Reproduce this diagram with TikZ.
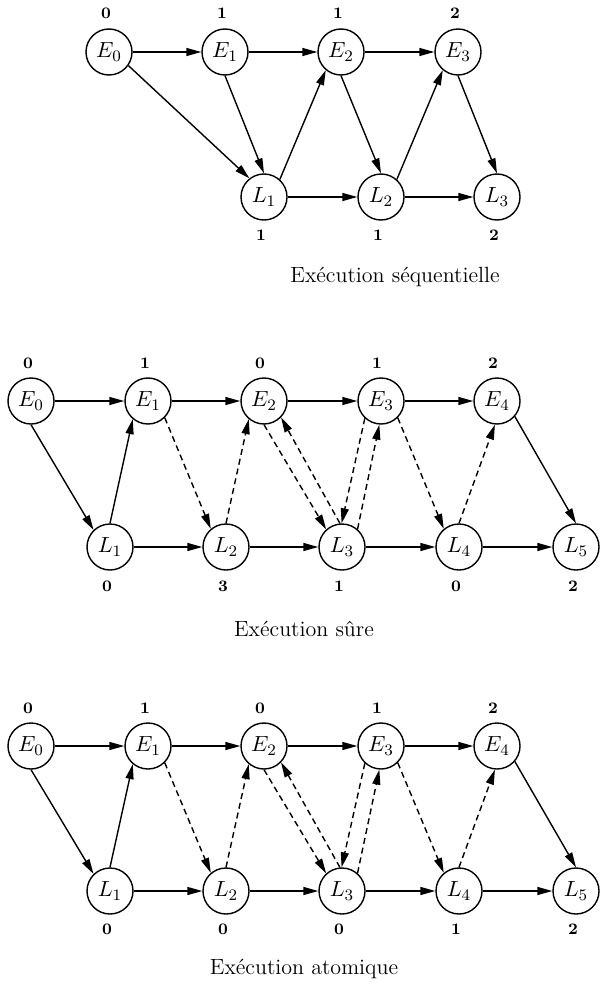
\documentclass[tikz,border=0pt]{standalone}
\usepackage{amsmath}
\usepackage{tikz}
\usetikzlibrary{arrows.meta}

\begin{document}
\begin{tikzpicture}[x=0.5pt, y=-0.5pt, line width=0.7pt,
		etat/.style={circle, draw, minimum size=23pt, inner sep=0pt, font=\fontsize{11}{13}\selectfont},
		num/.style={font=\footnotesize\bfseries, inner sep=0pt},
		titre/.style={font=\fontsize{11}{13}\selectfont, inner sep=0pt},
		arr/.style={-{Triangle[length=7.5pt,width=4pt]}},
		dsh/.style={dash pattern=on 3pt off 2pt}]
				\useasboundingbox (0,0) rectangle (605,990);
				
				% execution sequentielle
				\node[etat] (E0) at (109,52) {$E_0$};
				\node[etat] (E1) at (225,52) {$E_1$};
				\node[etat] (E2) at (341,52) {$E_2$};
				\node[etat] (E3) at (458,52) {$E_3$};
				\node[etat] (L1) at (264,197) {$L_1$};
				\node[etat] (L2) at (381,197) {$L_2$};
				\node[etat] (L3) at (497,197) {$L_3$};
				
				\node[num] (nE0) at (106,13) {0};
				\node[num] (nE1) at (222,13) {1};
				\node[num] (nE2) at (338,13) {1};
				\node[num] (nE3) at (455,13) {2};
				\node[num] (nL1) at (261,235) {1};
				\node[num] (nL2) at (378,235) {1};
				\node[num] (nL3) at (494,235) {2};
				
				\draw[arr] (E0) -- (E1);
				\draw[arr] (E1) -- (E2);
				\draw[arr] (E2) -- (E3);
				\draw[arr] (L1) -- (L2);
				\draw[arr] (L2) -- (L3);
				
				\draw[arr] (E0.-35) -- (L1.128);
				\draw[arr] (E1.south) -- (L1.north);
				\draw[arr] (L1.48) -- (E2.-130);
				\draw[arr] (E2.south) -- (L2.north);
				\draw[arr] (L2.48) -- (E3.-130);
				\draw[arr] (E3.south) -- (L3.north);
				
				\node[titre] (T0) at (395,277) {Ex\'ecution s\'equentielle};
				
				% execution sure
				\begin{scope}
					\node[etat] (E0) at (31,401) {$E_0$};
					\node[etat] (E1) at (148,401) {$E_1$};
					\node[etat] (E2) at (264,401) {$E_2$};
					\node[etat] (E3) at (381,401) {$E_3$};
					\node[etat] (E4) at (497,401) {$E_4$};
					\node[etat] (L1) at (110,547) {$L_1$};
					\node[etat] (L2) at (226,547) {$L_2$};
					\node[etat] (L3) at (342,547) {$L_3$};
					\node[etat] (L4) at (459,547) {$L_4$};
					\node[etat] (L5) at (576,547) {$L_5$};
					
					\node[num] (nE0) at (28,363) {0};
					\node[num] (nE1) at (145,363) {1};
					\node[num] (nE2) at (260,363) {0};
					\node[num] (nE3) at (377,363) {1};
					\node[num] (nE4) at (493,363) {2};
					\node[num] (nL1) at (107,586) {0};
					\node[num] (nL2) at (223,586) {3};
					\node[num] (nL3) at (339,586) {1};
					\node[num] (nL4) at (456,586) {0};
					\node[num] (nL5) at (573,586) {2};
					
					\draw[arr] (E0) -- (E1);
					\draw[arr] (E1) -- (E2);
					\draw[arr] (E2) -- (E3);
					\draw[arr] (E3) -- (E4);
					\draw[arr] (L1) -- (L2);
					\draw[arr] (L2) -- (L3);
					\draw[arr] (L3) -- (L4);
					\draw[arr] (L4) -- (L5);
					
					\draw[arr] (E0.south) -- (L1.134);
					\draw[arr] (L1.north) -- (E1.-130);
					\draw[arr, dsh] (E1.-45) -- (L2.130);
					\draw[arr, dsh] (L2.north) -- (E2.-130);
					\draw[arr, dsh] (E2.south) -- (L3.132);
					\draw[arr, dsh] (L3.95) -- (E2.-44);
					\draw[arr, dsh] (E3.-133) -- (L3.91);
					\draw[arr, dsh] (L3.49) -- (E3.-94);
					\draw[arr, dsh] (E3.-45) -- (L4.130);
					\draw[arr, dsh] (L4.north) -- (E4.-95);
					\draw[arr] (E4.-41) -- (L5.north);
					
					\node[titre] (T1) at (304,629) {Ex\'ecution s\^ure};
				\end{scope}
				
				% execution atomique
				\begin{scope}[shift={(0,345)}]
					\node[etat] (E0) at (31,401) {$E_0$};
					\node[etat] (E1) at (148,401) {$E_1$};
					\node[etat] (E2) at (264,401) {$E_2$};
					\node[etat] (E3) at (381,401) {$E_3$};
					\node[etat] (E4) at (497,401) {$E_4$};
					\node[etat] (L1) at (110,546) {$L_1$};
					\node[etat] (L2) at (226,546) {$L_2$};
					\node[etat] (L3) at (342,546) {$L_3$};
					\node[etat] (L4) at (459,546) {$L_4$};
					\node[etat] (L5) at (576,546) {$L_5$};
					
					\node[num] (nE0) at (28,363) {0};
					\node[num] (nE1) at (145,363) {1};
					\node[num] (nE2) at (260,363) {0};
					\node[num] (nE3) at (377,363) {1};
					\node[num] (nE4) at (493,363) {2};
					\node[num] (nL1) at (107,584) {0};
					\node[num] (nL2) at (223,584) {0};
					\node[num] (nL3) at (339,584) {0};
					\node[num] (nL4) at (456,584) {1};
					\node[num] (nL5) at (573,584) {2};
					
					\draw[arr] (E0) -- (E1);
					\draw[arr] (E1) -- (E2);
					\draw[arr] (E2) -- (E3);
					\draw[arr] (E3) -- (E4);
					\draw[arr] (L1) -- (L2);
					\draw[arr] (L2) -- (L3);
					\draw[arr] (L3) -- (L4);
					\draw[arr] (L4) -- (L5);
					
					\draw[arr] (E0.south) -- (L1.134);
					\draw[arr] (L1.north) -- (E1.-130);
					\draw[arr, dsh] (E1.-45) -- (L2.130);
					\draw[arr, dsh] (L2.north) -- (E2.-130);
					\draw[arr, dsh] (E2.south) -- (L3.132);
					\draw[arr, dsh] (L3.95) -- (E2.-44);
					\draw[arr, dsh] (E3.-133) -- (L3.91);
					\draw[arr, dsh] (L3.49) -- (E3.-94);
					\draw[arr, dsh] (E3.-45) -- (L4.130);
					\draw[arr, dsh] (L4.north) -- (E4.-95);
					\draw[arr] (E4.-41) -- (L5.north);
					
					\node[titre] (T2) at (304,624) {Ex\'ecution atomique};
				\end{scope}
			\end{tikzpicture}
\end{document}
